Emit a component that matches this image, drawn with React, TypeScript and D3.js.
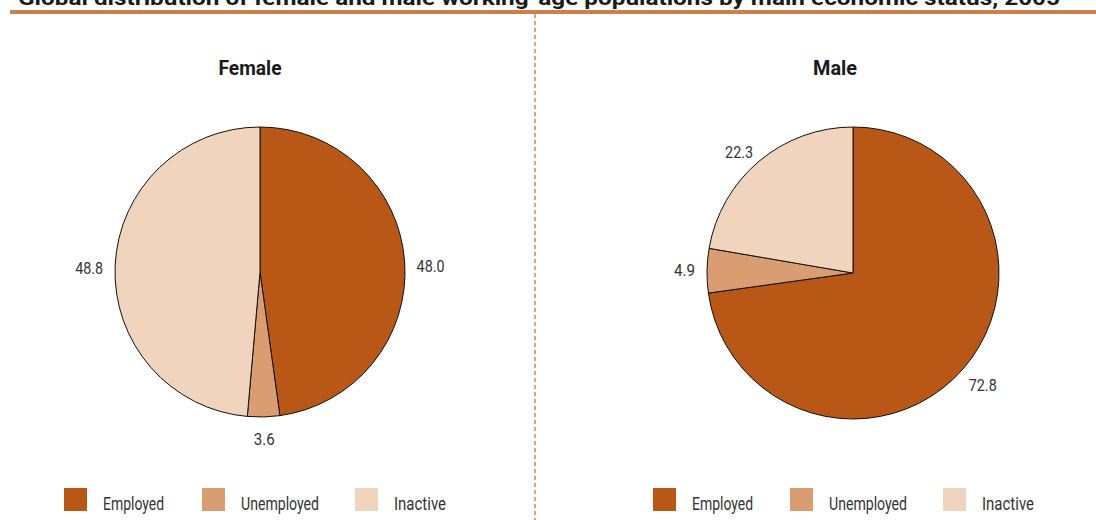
import React from "react";
import * as d3 from "d3";

const categories = ["Employed", "Unemployed", "Inactive"];
const legendTextWidths = [61, 78, 52];
const femaleValues = [48.0, 3.6, 48.8];
const maleValues = [72.8, 4.9, 22.3];
const valueLabels = { female: ["48.0", "3.6", "48.8"], male: ["72.8", "4.9", "22.3"] };
const colors = ["#B95716", "#DA9D72", "#F0D4BE"];
const titleText = "Global distribution of female and male working-age populations by main economic status, 2005";

const W = 1096;
const H = 520;
const FONT = "'Roboto', 'DejaVu Sans', sans-serif";

type PieProps = {
  values: number[];
  labels: string[];
  cx: number;
  cy: number;
  r: number;
  title: string;
  titleX: number;
  titleW: number;
  legendX: number[];
};

function Pie({ values, labels, cx, cy, r, title, titleX, titleW, legendX }: PieProps) {
  const pie = d3.pie<number>().sort(null).value((d) => d);
  const arcs = pie(values);
  const arc = d3.arc<d3.PieArcDatum<number>>().innerRadius(0).outerRadius(r);
  const labelR = r + 12;
  return (
    <g>
      <text x={titleX - titleW / 2} y={75} fontFamily={FONT} fontWeight="bold" fontSize={20} fill="#1a1a1a" textLength={titleW} lengthAdjust="spacingAndGlyphs">
        {title}
      </text>
      <g transform={`translate(${cx},${cy})`}>
        {arcs.map((a, i) => (
          <path key={i} d={arc(a) || ""} fill={colors[i]} stroke="#111" strokeWidth={1} />
        ))}
        {arcs.map((a, i) => {
          const m = (a.startAngle + a.endAngle) / 2;
          const sx = Math.sin(m);
          const sy = -Math.cos(m);
          const w = labels[i].length * 7;
          const h = 12;
          const x = sx * labelR + sx * (w / 2) - (sx < -0.3 && sy < -0.3 ? 3 : 0);
          const y = Math.abs(sy) < 0.3 ? sy * labelR * 0.35 - 2 : sy * labelR + sy * (h / 2) + 4;
          return (
            <text key={i} x={x - w / 2} y={y} dominantBaseline="central" fontFamily={FONT} fontSize={17} fill="#333" textLength={w} lengthAdjust="spacingAndGlyphs">
              {labels[i]}
            </text>
          );
        })}
      </g>
      {categories.map((c, i) => (
        <g key={c}>
          <rect x={legendX[i]} y={488} width={23} height={23} fill={colors[i]} />
          <text x={legendX[i] + 39} y={510} fontFamily={FONT} fontSize={18.5} fill="#333" textLength={legendTextWidths[i]} lengthAdjust="spacingAndGlyphs">
            {c}
          </text>
        </g>
      ))}
    </g>
  );
}

export default function App() {
  return (
    <svg width={W} height={H} style={{ position: "absolute", left: 0, top: 0, background: "#fff" }}>
      <text x={18} y={5} fontFamily={FONT} fontWeight="bold" fontSize={20} fill="#1a1a1a" textLength={1042} lengthAdjust="spacingAndGlyphs">
        {titleText}
      </text>
      <rect x={10} y={10} width={W - 10} height={4} fill="#CE8049" />
      <line x1={535} x2={535} y1={14} y2={H} stroke="#D8864C" strokeWidth={1.5} strokeDasharray="4,3" />
      <Pie values={femaleValues} labels={valueLabels.female} cx={260} cy={272} r={145} title="Female" titleX={250} titleW={63} legendX={[64, 202, 355]} />
      <Pie values={maleValues} labels={valueLabels.male} cx={853} cy={273} r={146} title="Male" titleX={835} titleW={44} legendX={[653, 790, 943]} />
    </svg>
  );
}
